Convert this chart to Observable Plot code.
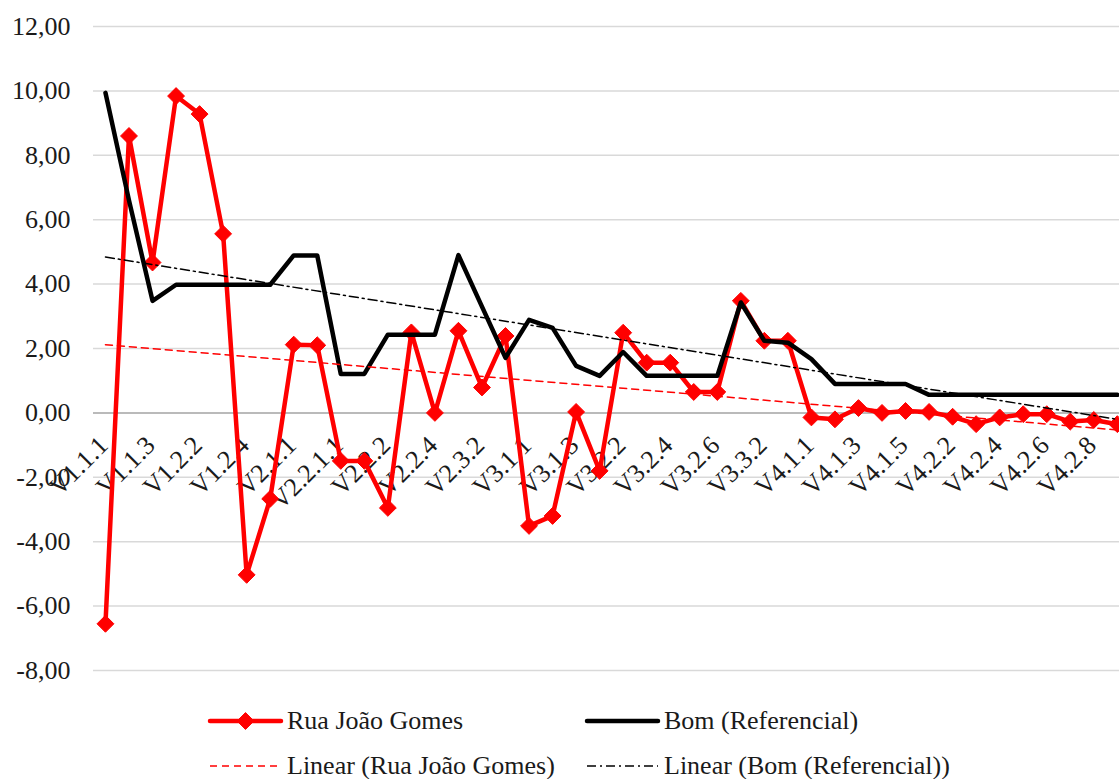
<!DOCTYPE html>
<html><head><meta charset="utf-8">
<script src="https://cdn.jsdelivr.net/npm/d3@7"></script>
<script src="https://cdn.jsdelivr.net/npm/@observablehq/plot@0.6"></script>
<style>body{margin:0;background:#fff;} #legend{display:block;}</style>
</head><body><div id="chart"></div><script>
const categories = [
  "V1.1.1","V1.1.2","V1.1.3","V1.2.1","V1.2.2","V1.2.3","V1.2.4","V1.2.5",
  "V2.1.1","V2.1.2","V2.2.1.1","V2.2.1.2","V2.2.2","V2.2.3","V2.2.4","V2.3.1",
  "V2.3.2","V2.3.3","V3.1.1","V3.1.2","V3.1.3","V3.2.1","V3.2.2","V3.2.3",
  "V3.2.4","V3.2.5","V3.2.6","V3.3.1","V3.3.2","V3.3.3","V4.1.1","V4.1.2",
  "V4.1.3","V4.1.4","V4.1.5","V4.2.1","V4.2.2","V4.2.3","V4.2.4","V4.2.5",
  "V4.2.6","V4.2.7","V4.2.8","V4.2.9"
];
const ruaJoaoGomes = [
  -6.55, 8.60, 4.67, 9.84, 9.28, 5.56, -5.03, -2.67,
  2.12, 2.10, -1.49, -1.49, -2.95, 2.50, 0.00, 2.55,
  0.79, 2.39, -3.51, -3.20, 0.03, -1.80, 2.49, 1.56,
  1.56, 0.65, 0.65, 3.48, 2.24, 2.24, -0.14, -0.20,
  0.15, 0.00, 0.06, 0.03, -0.12, -0.35, -0.14, -0.04,
  -0.04, -0.27, -0.22, -0.35
];
const bomReferencial = [
  9.94, 6.60, 3.48, 3.98, 3.98, 3.98, 3.98, 3.98,
  4.89, 4.89, 1.21, 1.21, 2.43, 2.43, 2.43, 4.90,
  3.30, 1.71, 2.89, 2.64, 1.46, 1.15, 1.89, 1.15,
  1.15, 1.15, 1.15, 3.43, 2.24, 2.18, 1.67, 0.90,
  0.90, 0.90, 0.90, 0.56, 0.56, 0.56, 0.56, 0.56,
  0.56, 0.56, 0.56, 0.56
];
const yTicks = [-8, -6, -4, -2, 0, 2, 4, 6, 8, 10, 12];
const seriesNames = ["Rua João Gomes", "Bom (Referencial)"];
const trendNames = ["Linear (Rua João Gomes)", "Linear (Bom (Referencial))"];

const FONT = "'Times New Roman', Times, 'Liberation Serif', Tinos, 'Noto Serif', 'DejaVu Serif', FreeSerif, serif";
const RED = "#ff0000";

const redData = categories.map((c, k) => ({i: k + 1, cat: c, v: ruaJoaoGomes[k]}));
const blackData = categories.map((c, k) => ({i: k + 1, cat: c, v: bomReferencial[k]}));
const labelData = redData.filter((d, k) => k % 2 === 0);

const plot = Plot.plot({
  width: 1119, height: 690,
  marginLeft: 93, marginRight: 0, marginTop: 26, marginBottom: 20,
  x: {type: "linear", domain: [0.5, 44.5], range: [93.2, 1128.6], axis: null},
  y: {domain: [-8, 12], axis: null},
  style: {fontFamily: FONT, fontSize: "26px", color: "#1a1a1a", background: "#fff"},
  marks: [
    Plot.ruleY(yTicks.filter(d => d !== 0), {stroke: "#d9d9d9", strokeWidth: 1.5}),
    Plot.ruleY([0], {stroke: "#a3a3a3", strokeWidth: 1.5}),
    Plot.axisY(yTicks, {tickSize: 0, tickPadding: 23, fontSize: 26, label: null,
      tickFormat: d => d.toFixed(2).replace(".", ",")}),
    Plot.text(labelData, {x: "i", y: d => 0, text: "cat", rotate: -45,
      textAnchor: "end", lineAnchor: "bottom", dx: 4, dy: 34, fontSize: 26, fill: "#1a1a1a"}),
    Plot.line(redData, {x: "i", y: "v", stroke: RED, strokeWidth: 4.5, strokeLinejoin: "round"}),
    Plot.dot(redData, {x: "i", y: "v", symbol: "diamond2", r: 7.6, fill: RED, stroke: RED, strokeWidth: 1}),
    Plot.line(blackData, {x: "i", y: "v", stroke: "#000", strokeWidth: 4.5, strokeLinejoin: "round"}),
    Plot.linearRegressionY(redData, {x: "i", y: "v", stroke: RED, strokeWidth: 1.5, strokeDasharray: "7,5", ci: 0}),
    Plot.linearRegressionY(blackData, {x: "i", y: "v", stroke: "#000", strokeWidth: 1.5, strokeDasharray: "9,4,2,4", ci: 0})
  ]
});
document.getElementById("chart").appendChild(plot);

// Legend
const lg = d3.select("#chart").append("svg").attr("id", "legend")
  .attr("width", 1119).attr("height", 89)
  .style("font-family", FONT).style("font-size", "26px");
const items = [
  {x: 210, row: 0, stroke: RED, w: 4.5, dash: null, diamond: true, text: seriesNames[0]},
  {x: 587, row: 0, stroke: "#000", w: 4.5, dash: null, diamond: false, text: seriesNames[1]},
  {x: 210, row: 1, stroke: RED, w: 1.5, dash: "7,5", diamond: false, text: trendNames[0]},
  {x: 587, row: 1, stroke: "#000", w: 1.5, dash: "9,4,2,4", diamond: false, text: trendNames[1]}
];
items.forEach(it => {
  const ly = 31 + it.row * 45;
  lg.append("line").attr("x1", it.x).attr("x2", it.x + 71).attr("y1", ly).attr("y2", ly)
    .attr("stroke", it.stroke).attr("stroke-width", it.w)
    .attr("stroke-dasharray", it.dash).attr("stroke-linecap", it.dash ? "butt" : "round");
  if (it.diamond) {
    lg.append("path").attr("d", d3.symbol(d3.symbolDiamond2, Math.PI * 7.6 * 7.6)())
      .attr("transform", `translate(${it.x + 35.5},${ly})`).attr("fill", RED).attr("stroke", RED);
  }
  lg.append("text").attr("x", it.x + 77).attr("y", ly + 8).attr("fill", "#1a1a1a").text(it.text);
});
</script></body></html>
